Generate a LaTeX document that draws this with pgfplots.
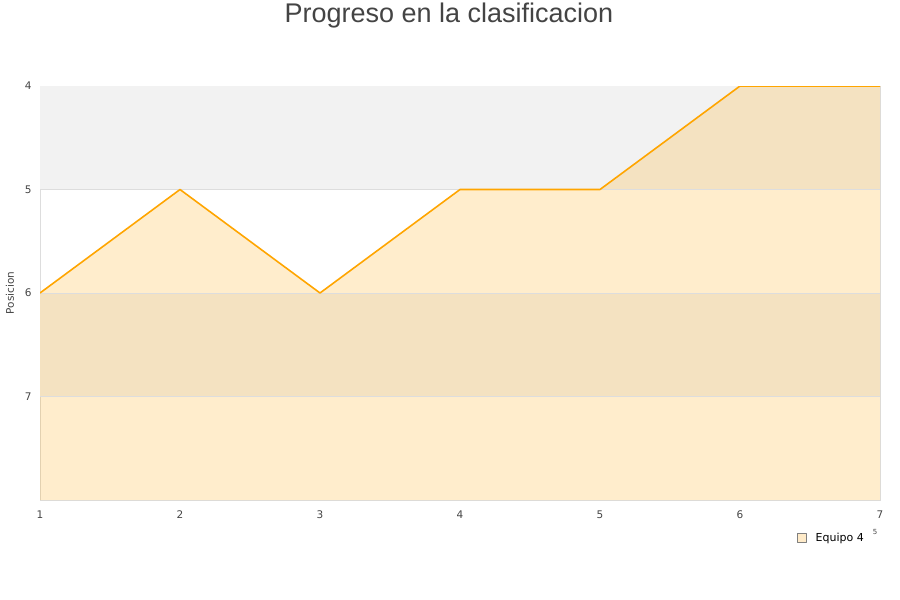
\documentclass[border=0pt]{standalone}
\usepackage{pgfplots}
\pgfplotsset{compat=1.18}
\usepackage{fontspec}
\setmainfont{DejaVu Sans}
\newfontfamily\titlefont{Liberation Sans}
\definecolor{lineorange}{HTML}{FFA500}
\definecolor{bandgrey}{HTML}{F2F2F2}
\definecolor{gridgrey}{HTML}{DDDDDD}
\definecolor{textgrey}{HTML}{444444}
\definecolor{legendfill}{HTML}{FFEBC9}
\begin{document}
\begin{tikzpicture}[x=1pt,y=1pt]
% page frame
\useasboundingbox (0,0) rectangle (900,600);
\coordinate (origin) at (40,100);
\node[font=\titlefont\fontsize{27}{30}\selectfont, text=textgrey] at (449,584) {Progreso en la clasificacion};
\begin{axis}[
  at={(origin)}, anchor=south west,
  width=840pt, height=414pt, scale only axis,
  xmin=1, xmax=7, ymin=4, ymax=8,
  y dir=reverse,
  xtick={1,2,3,4,5,6,7},
  ytick={4,5,6,7},
  axis line style={gridgrey, line width=0.8pt},
  tick style={draw=none},
  tick label style={font=\fontsize{10.5}{12}\selectfont, text=textgrey},
  /pgf/number format/assume math mode=true,
  xticklabel style={yshift=-7pt},
  yticklabel style={xshift=-5pt},
  ylabel={Posicion},
  ylabel style={font=\fontsize{10.5}{12}\selectfont, text=textgrey,
    at={(axis description cs:-0.0357,0.5)}, anchor=center},
  legend style={at={(0.987,-0.092)}, anchor=east, draw=none, fill=none,
    font=\fontsize{11}{12}\selectfont, text=black},
  legend image code/.code={\draw[gray, line width=0.6pt, fill=legendfill] (0pt,-4.5pt) rectangle (9pt,4.5pt); \path (16pt,0pt);},
  clip=true,
]
% alternating background bands
\fill[bandgrey] (axis cs:1,4) rectangle (axis cs:7,5);
\fill[bandgrey] (axis cs:1,6) rectangle (axis cs:7,7);
% area under the position line
\addplot[draw=none, fill=lineorange, fill opacity=0.2, forget plot]
  coordinates {(1,6) (2,5) (3,6) (4,5) (5,5) (6,4) (7,4) (7,8) (1,8)} -- cycle;
% horizontal grid lines between the bands
\draw[gridgrey, line width=0.6pt] (axis cs:1,5) -- (axis cs:7,5);
\draw[gridgrey, line width=0.6pt] (axis cs:1,6) -- (axis cs:7,6);
\draw[gridgrey, line width=0.6pt] (axis cs:1,7) -- (axis cs:7,7);
\addplot[lineorange, line width=1.6pt, line join=round]
  coordinates {(1,6) (2,5) (3,6) (4,5) (5,5) (6,4) (7,4)};
\addlegendentry{Equipo 4}
\end{axis}
\node[font=\fontsize{7}{8}\selectfont, text=textgrey] at (875,68) {5};
\end{tikzpicture}
\end{document}
